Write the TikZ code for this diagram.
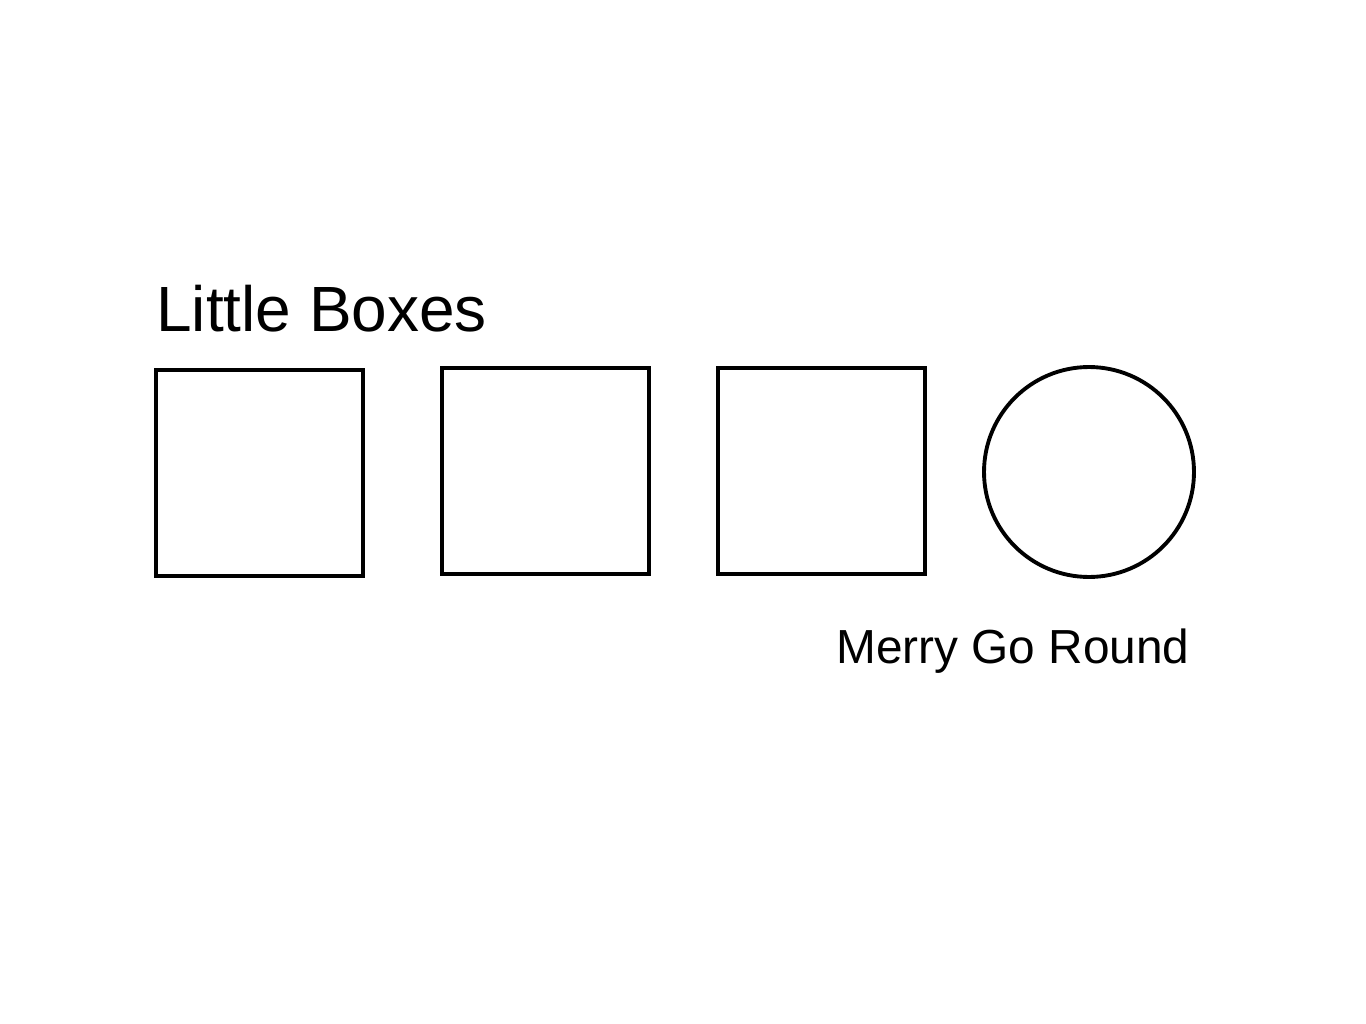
\documentclass[tikz,border=0pt]{standalone}
\usepackage{fontspec}
\setmainfont{Liberation Sans}
\usetikzlibrary{positioning}

\tikzset{
  box/.style={draw=black, line width=2.2pt, minimum width=4.14cm, minimum height=4.12cm, inner sep=0pt},
  ride/.style={draw=black, line width=2.2pt, circle, minimum size=4.2cm, inner sep=0pt},
}

\begin{document}
\begin{tikzpicture}[x=0.02cm, y=-0.02cm]
  \useasboundingbox (0,0) rectangle (1366,1024);
  \node[box] (box1) at (259.5,473) {};
  \node[box] (box2) at (545.5,471) {};
  \node[box] (box3) at (821.5,471) {};
  \node[ride] (merry) at (1089,472) {};
  \node[anchor=base west, inner sep=0pt, font=\fontsize{36.4}{40}\selectfont] (boxeslabel) at (156,331) {Little Boxes};
  \node[anchor=base west, inner sep=0pt, font=\fontsize{27.2}{30}\selectfont] (merrylabel) at (836,663) {Merry Go Round};
\end{tikzpicture}
\end{document}
